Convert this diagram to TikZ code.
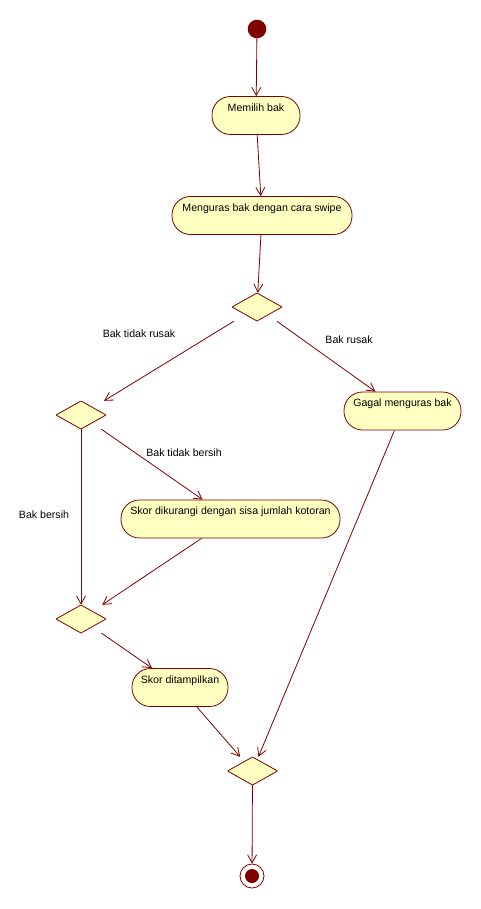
\documentclass[tikz,border=0pt]{standalone}
\usepackage{fontspec}
\setmainfont{Liberation Sans}
\usetikzlibrary{arrows.meta}
\definecolor{lc}{RGB}{128,0,0}
\definecolor{fc}{RGB}{255,255,194}
\newcommand\actfont{\fontsize{10.6pt}{12pt}\selectfont}
\tikzset{
  act/.style={draw=lc, fill=fc, rectangle, rounded corners=18.5pt, line width=0.8pt,
    inner xsep=2pt, inner ysep=3pt, text height=11.8pt, text depth=20.2pt, font=\actfont},
  dec/.style={rectangle, minimum width=50pt, minimum height=28pt, inner sep=0pt,
    path picture={\draw[lc, fill=fc, line width=0.8pt]
      (path picture bounding box.north) -- (path picture bounding box.east) --
      (path picture bounding box.south) -- (path picture bounding box.west) -- cycle;}},
  flow/.style={draw=lc, line width=0.8pt, -{Straight Barb[length=8pt,width=9pt]}},
  lbl/.style={inner sep=0pt, font=\actfont},
  startnode/.style={circle, fill=lc, minimum size=18.6pt, inner sep=0pt},
  endnode/.style={circle, draw=lc, fill=white, line width=0.8pt, minimum size=24pt, inner sep=0pt,
    path picture={\fill[lc] (path picture bounding box.center) circle (7pt);}},
}
\begin{document}
\begin{tikzpicture}[x=1pt,y=-1pt]
\useasboundingbox[fill=white] (0,0) rectangle (481,909);
\node[startnode] (start) at (257,29) {};
\node[act, minimum width=88pt] (a1) at (256,115.5) {Memilih bak};
\node[act, minimum width=180pt] (a2) at (262,215.5) {Menguras bak dengan cara swipe};
\node[dec] (d1) at (257,307) {};
\node[act, minimum width=117pt] (a3) at (402.5,411) {Gagal menguras bak};
\node[dec] (d2) at (81,415) {};
\node[act, minimum width=219pt] (a4) at (230.5,519) {Skor dikurangi dengan sisa jumlah kotoran};
\node[dec] (d3) at (81,619) {};
\node[act, minimum width=96pt] (a5) at (180,687.5) {Skor ditampilkan};
\node[dec] (d4) at (252.5,771) {};
\node[endnode] (end) at (252,876) {};

\node[lbl] (l1) at (139,334) {Bak tidak rusak};
\node[lbl] (l2) at (349,340) {Bak rusak};
\node[lbl] (l3) at (184,453) {Bak tidak bersih};
\node[lbl] (l4) at (44,515) {Bak bersih};

\draw[flow] (start) -- (a1);
\draw[flow] (a1) -- (a2);
\draw[flow] (a2) -- (d1);
\draw[flow] (d1) -- (d2);
\draw[flow] (d1) -- (a3);
\draw[flow] (d2) -- (a4);
\draw[flow] (d2) -- (d3);
\draw[flow] (a4) -- (d3);
\draw[flow] (d3) -- (a5);
\draw[flow] (a5) -- (d4);
\draw[flow] (a3) -- (d4);
\draw[flow] (d4) -- (end);
\end{tikzpicture}
\end{document}
